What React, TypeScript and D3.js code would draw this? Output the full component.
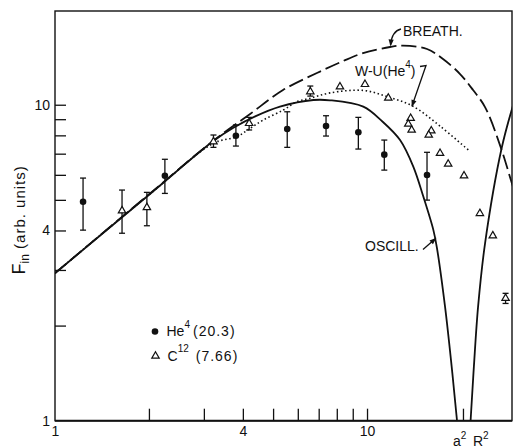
import React, { useEffect, useRef } from 'react';
import * as d3 from 'd3';

// axis limits and ticks (log-log)
const xLimits = [1, 29.15];
const yLimits = [1, 19.8];
const xTicks = [2, 3, 4, 5, 6, 7, 8, 9, 10];
const xTickLabels = [1, 4, 10];
const yTicks = [2, 3, 4, 5, 6, 7, 8, 9, 10];
const yTickLabels = [1, 4, 10];
const a2 = 20.3;

// He4 (20.3) points with error bars
const heX = [1.23, 2.25, 3.8, 5.55, 7.39, 9.38, 11.36, 15.57];
const heY = [4.93, 5.96, 7.98, 8.38, 8.56, 8.18, 6.95, 5.99];
const heLo = [4.01, 5.24, 7.4, 7.33, 7.96, 7.24, 6.21, 4.99];
const heHi = [5.86, 6.72, 8.63, 9.5, 9.23, 9.12, 7.73, 7.07];

// C12 (7.66) points, error bars only where drawn
const cX = [1.64, 1.97, 3.22, 4.19, 6.58, 8.19, 9.85, 11.7, 13.8, 13.56, 13.9, 16.07, 15.77, 17.14, 18.2, 20.46, 23.0, 25.3, 27.8];
const cY = [4.62, 4.73, 7.64, 8.73, 11.0, 11.4, 11.6, 10.5, 9.06, 8.69, 8.32, 8.27, 8.02, 7.02, 6.49, 5.96, 4.53, 3.85, 2.44];
const cLo = [3.92, 4.14, 7.33, 8.32, 10.65, null, null, null, null, null, null, null, null, null, null, null, null, null, 2.35];
const cHi = [5.37, 5.28, 8.02, 9.12, 11.46, null, null, null, null, null, null, null, null, null, null, null, null, null, 2.53];

// model curves
const breathCurve = [
  [1, 2.93], [2.016, 5.24], [3.21, 7.68], [4.22, 9.35], [5.38, 11.13], [6.91, 12.6],
  [8.38, 13.75], [9.71, 14.57], [11.85, 15.23], [13.04, 15.39], [15.57, 15.01],
  [17.52, 13.95], [19.87, 12.51], [21.87, 11.13], [23.89, 9.83], [26.88, 7.29],
  [28.73, 5.9], [29.37, 5.49],
];
const wuCurve = [
  [1, 2.93], [2.016, 5.22], [3.22, 7.55], [3.82, 7.92], [4.22, 8.42], [4.65, 8.95],
  [5.39, 9.62], [5.95, 10.22], [6.57, 10.48], [7.61, 10.9], [9.73, 11.1],
  [11.71, 10.58], [13.99, 9.91], [17.14, 8.56], [21.12, 7.19],
];
const oscillLeft = [
  [1, 2.93], [2.016, 5.22], [3.21, 7.66], [3.73, 8.45], [4.4, 9.2], [5.26, 9.86],
  [6.73, 10.35], [7.61, 10.33], [9.73, 9.86], [11.2, 8.85], [12.76, 7.73],
  [14.07, 6.37], [15.15, 5.12], [16.32, 4.01], [16.73, 3.55], [17.78, 2.3],
  [18.68, 1.48], [19.39, 1.02], [19.8, 0.8],
];
const oscillRight = [
  [21.2, 0.8], [21.5, 1.02], [22.0, 1.48], [22.7, 2.3], [23.9, 3.65],
  [27.0, 7.28], [29.4, 9.98],
];

const W = 513;
const H = 448;
const margin = { top: 11, right: 1, bottom: 27.3, left: 55 };
const font = '"Liberation Sans", Arial, sans-serif';
const ink = '#111';

const Chart = () => {
  const svgRef = useRef(null);

  useEffect(() => {
    const svg = d3.select(svgRef.current);
    svg.selectAll('*').remove();

    const x = d3.scaleLog().domain(xLimits).range([margin.left, W - margin.right]);
    const y = d3.scaleLog().domain(yLimits).range([H - margin.bottom, margin.top]);
    const y0 = H - margin.bottom;

    svg.append('defs').append('clipPath').attr('id', 'plot')
      .append('rect')
      .attr('x', margin.left).attr('y', margin.top)
      .attr('width', W - margin.left - margin.right)
      .attr('height', y0 - margin.top);

    // frame
    svg.append('rect')
      .attr('x', margin.left).attr('y', margin.top)
      .attr('width', W - margin.left - margin.right)
      .attr('height', y0 - margin.top)
      .attr('fill', 'none').attr('stroke', ink).attr('stroke-width', 1.4);
    svg.append('line')
      .attr('x1', margin.left).attr('x2', W - margin.right)
      .attr('y1', y0).attr('y2', y0)
      .attr('stroke', ink).attr('stroke-width', 2);

    // inward ticks
    const gx = svg.append('g').attr('transform', `translate(0,${y0})`)
      .call(d3.axisBottom(x).tickValues([...xTicks, a2]).tickSize(-12).tickFormat(() => ''));
    gx.select('.domain').remove();
    gx.selectAll('line').attr('stroke', ink).attr('stroke-width', 1.3);

    const gy = svg.append('g').attr('transform', `translate(${margin.left},0)`)
      .call(d3.axisLeft(y).tickValues(yTicks).tickSize(-11).tickFormat(() => ''));
    gy.select('.domain').remove();
    gy.selectAll('line').attr('stroke', ink).attr('stroke-width', 1.3);

    // tick labels
    const lx = svg.append('g').attr('transform', `translate(0,${y0})`)
      .call(d3.axisBottom(x).tickValues(xTickLabels).tickSize(0).tickPadding(5).tickFormat(d3.format('d')));
    lx.select('.domain').remove();
    lx.selectAll('text').attr('font-family', font).attr('font-size', 14).attr('fill', ink);

    const ly = svg.append('g').attr('transform', `translate(${margin.left},0)`)
      .call(d3.axisLeft(y).tickValues(yTickLabels).tickSize(0).tickPadding(5).tickFormat(d3.format('d')));
    ly.select('.domain').remove();
    ly.selectAll('text').attr('font-family', font).attr('font-size', 14).attr('fill', ink);

    // a^2  R^2
    const ar = svg.append('g').attr('font-family', font).attr('fill', ink);
    const ta = ar.append('text').attr('x', x(a2) - 10).attr('y', 446).attr('font-size', 14);
    ta.append('tspan').text('a');
    ta.append('tspan').attr('dy', -7).attr('font-size', 10).text('2');
    const tr = ar.append('text').attr('x', x(a2) + 10).attr('y', 446).attr('font-size', 14);
    tr.append('tspan').text('R');
    tr.append('tspan').attr('dy', -7).attr('font-size', 10).text('2');

    // y title
    const yt = svg.append('text')
      .attr('transform', `translate(25,${(margin.top + y0) / 2 + 4}) rotate(-90)`)
      .attr('text-anchor', 'middle').attr('font-family', font).attr('fill', ink);
    yt.append('tspan').attr('font-size', 18).text('F');
    yt.append('tspan').attr('font-size', 12).attr('dy', 4).text('in');
    yt.append('tspan').attr('font-size', 15).attr('dy', -4).attr('letter-spacing', 1).text(' (arb. units)');

    // curves
    const line = d3.line()
      .x(d => x(d[0]))
      .y(d => y(d[1]))
      .curve(d3.curveCatmullRom.alpha(0.5));
    const curves = svg.append('g').attr('clip-path', 'url(#plot)').attr('fill', 'none').attr('stroke', ink);
    curves.append('path').attr('d', line(breathCurve))
      .attr('stroke-width', 1.8).attr('stroke-dasharray', '15 5');
    curves.append('path').attr('d', line(wuCurve))
      .attr('stroke-width', 1.6).attr('stroke-dasharray', '1.5 2.6');
    curves.append('path').attr('d', line(oscillLeft)).attr('stroke-width', 1.8);
    curves.append('path').attr('d', line(oscillRight)).attr('stroke-width', 1.8);

    // error bars
    const bars = svg.append('g').attr('stroke', ink).attr('stroke-width', 1.3);
    const errorBar = (xv, lo, hi) => {
      const px = x(xv);
      bars.append('line').attr('x1', px).attr('x2', px).attr('y1', y(lo)).attr('y2', y(hi));
      bars.append('line').attr('x1', px - 3).attr('x2', px + 3).attr('y1', y(lo)).attr('y2', y(lo));
      bars.append('line').attr('x1', px - 3).attr('x2', px + 3).attr('y1', y(hi)).attr('y2', y(hi));
    };
    heX.forEach((xv, i) => errorBar(xv, heLo[i], heHi[i]));
    cX.forEach((xv, i) => { if (cLo[i] != null) errorBar(xv, cLo[i], cHi[i]); });

    // markers
    const tri = d3.symbol().type(d3.symbolTriangle).size(24);
    svg.append('g').selectAll('circle').data(heX).join('circle')
      .attr('cx', d => x(d)).attr('cy', (d, i) => y(heY[i])).attr('r', 3.3).attr('fill', ink);
    svg.append('g').selectAll('path').data(cX).join('path')
      .attr('d', tri)
      .attr('transform', (d, i) => `translate(${x(d)},${y(cY[i])})`)
      .attr('fill', '#fff').attr('stroke', ink).attr('stroke-width', 1.2);

    // legend
    const lg = svg.append('g').attr('font-family', font).attr('fill', ink);
    lg.append('circle').attr('cx', 155).attr('cy', 331.5).attr('r', 3.3).attr('fill', ink);
    const t1 = lg.append('text').attr('x', 166.5).attr('y', 336).attr('font-size', 14);
    t1.append('tspan').text('He');
    t1.append('tspan').attr('dy', -8).attr('font-size', 10).text('4');
    t1.append('tspan').attr('dy', 8).attr('dx', 3).attr('letter-spacing', 1).text('(20.3)');
    lg.append('path').attr('d', tri).attr('transform', 'translate(155.5,356)')
      .attr('fill', '#fff').attr('stroke', ink).attr('stroke-width', 1.2);
    const t2 = lg.append('text').attr('x', 167.5).attr('y', 361).attr('font-size', 14);
    t2.append('tspan').text('C');
    t2.append('tspan').attr('dy', -9).attr('font-size', 10).text('12');
    t2.append('tspan').attr('dy', 9).attr('dx', 7).attr('letter-spacing', 1).text('(7.66)');

    // annotations
    const ann = svg.append('g').attr('font-family', font).attr('fill', ink).attr('font-size', 14);
    ann.append('text').attr('x', 403).attr('y', 36).text('BREATH.');
    const wu = ann.append('text').attr('x', 355).attr('y', 75.5);
    wu.append('tspan').text('W-U(He');
    wu.append('tspan').attr('dy', -8).attr('font-size', 10).text('4');
    wu.append('tspan').attr('dy', 8).text(')');
    ann.append('text').attr('x', 365).attr('y', 251).text('OSCILL.');

    const arrows = svg.append('g').attr('fill', 'none').attr('stroke', ink).attr('stroke-width', 1.3);
    const head = (fx, fy, tx, ty) => {
      const a = Math.atan2(ty - fy, tx - fx);
      const len = 7, wid = 2.6;
      const bx = tx - len * Math.cos(a), by = ty - len * Math.sin(a);
      const pts = [
        [tx, ty],
        [bx + wid * Math.sin(a), by - wid * Math.cos(a)],
        [bx - wid * Math.sin(a), by + wid * Math.cos(a)],
      ];
      svg.append('path').attr('d', `M${pts.join('L')}Z`).attr('fill', ink);
    };
    arrows.append('path').attr('d', 'M401,29 Q392,31 390.5,45');
    head(391.5, 36, 390.5, 46.5);
    arrows.append('path').attr('d', 'M420,66.5 L426,65.5 L412,106');
    head(426, 65.5, 411.7, 107);
    arrows.append('path').attr('d', 'M423,249.5 L435,239');
    head(423, 249.5, 436.5, 237.8);
  }, []);

  return <svg ref={svgRef} width={W} height={H}
    style={{ position: 'absolute', left: 0, top: 0, background: '#fff' }} />;
};

export default function App() {
  return <Chart />;
}
